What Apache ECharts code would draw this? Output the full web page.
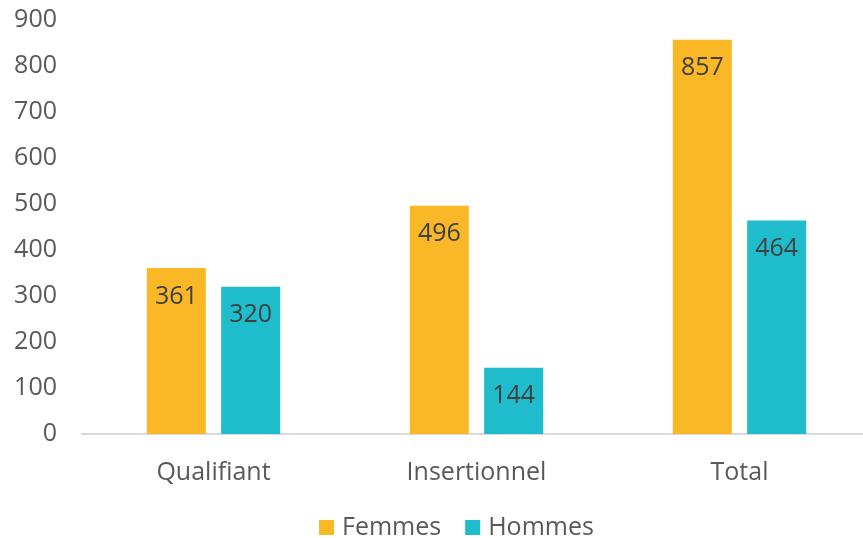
<!DOCTYPE html>
<html><head><meta charset="utf-8">
<script src="https://cdn.jsdelivr.net/npm/echarts@6/dist/echarts.min.js"></script>
<style>html,body{margin:0;padding:0;background:#fff}#c{width:863px;height:538px}</style>
</head><body><div id="c"></div>
<script>
const categories = ['Qualifiant', 'Insertionnel', 'Total'];
const femmes = [361, 496, 857];
const hommes = [320, 144, 464];
const seriesNames = ['Femmes', 'Hommes'];

const chart = echarts.init(document.getElementById('c'), null, {renderer: 'canvas'});
const font = '"Open Sans", sans-serif';
const lbl = {show: true, position: 'insideTop', distance: 16, fontSize: 25, color: '#404040', fontFamily: font};
chart.setOption({
  animation: false,
  grid: {left: 82, top: 20, width: 789, height: 414, containLabel: false, outerBoundsMode: 'none'},
  legend: {
    data: seriesNames, top: 510, left: 314, itemWidth: 15, itemHeight: 15, itemGap: 24,
    icon: 'rect', textStyle: {fontSize: 25, color: '#595959', fontFamily: font, padding: [0, 0, 0, 3]}
  },
  xAxis: {
    type: 'category', data: categories,
    axisLine: {lineStyle: {color: '#d9d9d9', width: 2}},
    axisTick: {show: false},
    axisLabel: {fontSize: 25, color: '#595959', margin: 26, fontFamily: font}
  },
  yAxis: {
    type: 'value', min: 0, max: 900, interval: 100,
    splitLine: {show: false}, axisLine: {show: false}, axisTick: {show: false},
    axisLabel: {fontSize: 25, color: '#595959', margin: 25, fontFamily: font}
  },
  series: [
    {name: seriesNames[0], type: 'bar', data: femmes, barWidth: 59, barGap: '26%',
     itemStyle: {color: '#FBB826'}, label: lbl},
    {name: seriesNames[1], type: 'bar', data: hommes, barWidth: 59,
     itemStyle: {color: '#1FBCCC'}, label: lbl}
  ]
});
</script></body></html>
